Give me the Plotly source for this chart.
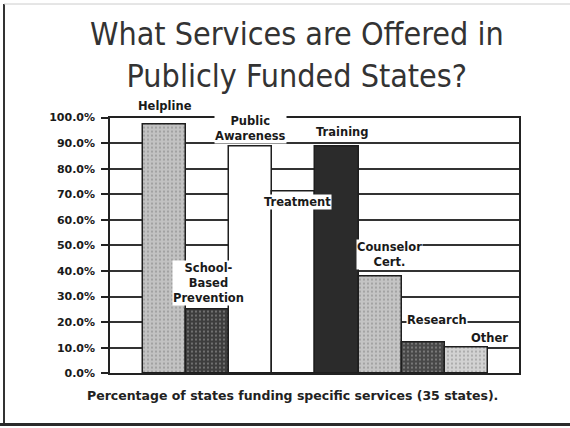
import plotly.graph_objects as go

# ---- data ----
services = ["Helpline", "School-Based Prevention", "Public Awareness", "Treatment",
            "Training", "Counselor Cert.", "Research", "Other"]
percent = [97.1, 25.0, 88.6, 71.0, 88.6, 38.0, 12.0, 10.0]
bar_labels = ["Helpline", "School-<br>Based<br>Prevention", "Public<br>Awareness", "Treatment",
              "Training", "Counselor<br>Cert.", "Research", "Other"]
tick_values = [0, 10, 20, 30, 40, 50, 60, 70, 80, 90, 100]
tick_labels = ["0.0%", "10.0%", "20.0%", "30.0%", "40.0%", "50.0%",
               "60.0%", "70.0%", "80.0%", "90.0%", "100.0%"]
title_text = "What Services are Offered in<br>Publicly Funded States?"
caption_text = "Percentage of states funding specific services (35 states)."

# ---- styles ----
W, H = 570, 428
fill = ["#c2c2c2", "#3d3d3d", "#ffffff", "#ffffff", "#2b2b2b", "#c4c4c4", "#484848", "#d2d2d2"]
speck = ["#8a8a8a", "#1e1e1e", "#ffffff", "#ffffff", "#1a1a1a", "#8e8e8e", "#262626", "#9a9a9a"]
shapes_p = [".", ".", "", "", "", ".", ".", "."]
# label anchors (bar-index offset, percent height)
lab_dx = [0.0, 0.03, 0.0, 0.08, 0.14, 0.22, 0.31, 0.53]
lab_y = [107.5, 35.2, 95.8, 66.8, 94.4, 46.4, 20.9, 13.9]

x_idx = list(range(len(services)))

fig = go.Figure()
fig.add_trace(go.Bar(
    x=x_idx, y=percent, width=1.0,
    marker=dict(color=fill, line=dict(color="#1e1e1e", width=1.5),
                pattern=dict(shape=shapes_p, fgcolor=speck,
                             size=4, solidity=0.15, fillmode="overlay")),
    hovertext=services, showlegend=False,
))

Y0, Y1 = 373.3, 117.5  # pixel rows of 0% and 100%


def pct_to_paper(v):
    return 1 - (Y0 - v / 100 * (Y0 - Y1)) / H


lab_font = dict(family="DejaVu Sans, sans-serif", size=11.5, color="#1a1a1a")
for i, t in enumerate(bar_labels):
    if lab_y[i] > 100:
        fig.add_annotation(x=i + lab_dx[i], y=pct_to_paper(lab_y[i]), xref="x", yref="paper",
                           text="<b>" + t + "</b>", showarrow=False, font=lab_font,
                           bgcolor="white", borderpad=0, align="center")
    else:
        fig.add_annotation(x=i + lab_dx[i], y=lab_y[i], xref="x", yref="y",
                           text="<b>" + t + "</b>", showarrow=False, font=lab_font,
                           bgcolor="white", borderpad=0, align="center")

# title and caption
fig.add_annotation(x=297 / W, y=1 - 55 / H, xref="paper", yref="paper", text=title_text,
                   showarrow=False, font=dict(family="DejaVu Sans Condensed, DejaVu Sans, sans-serif",
                                              size=32, color="#333333"),
                   align="center", xanchor="center", yanchor="middle")
fig.add_annotation(x=292 / W, y=1 - 395 / H, xref="paper", yref="paper", text="<b>" + caption_text + "</b>",
                   showarrow=False, font=dict(family="DejaVu Sans, sans-serif",
                                              size=12.5, color="#222222"),
                   xanchor="center", yanchor="middle")

# page frame lines
frame = [
    dict(type="line", xref="paper", yref="paper", x0=4 / W, x1=4 / W, y0=1 - 4 / H, y1=1 - 425 / H,
         line=dict(color="#333333", width=2)),
    dict(type="line", xref="paper", yref="paper", x0=4 / W, x1=1, y0=1 - 4 / H, y1=1 - 4 / H,
         line=dict(color="#cccccc", width=1)),
    dict(type="line", xref="paper", yref="paper", x0=0, x1=1, y0=1 - 424.5 / H, y1=1 - 424.5 / H,
         line=dict(color="#2a2a2a", width=3)),
]

fig.update_layout(
    width=W, height=H,
    margin=dict(l=0, r=0, t=0, b=0),
    paper_bgcolor="white", plot_bgcolor="white",
    shapes=frame,
    bargap=0,
    xaxis=dict(domain=[110 / W, 519 / W], range=[-1.266, 8.224], showticklabels=False,
               showgrid=False, zeroline=False, showline=True, linecolor="#222222", linewidth=1.5,
               mirror=True, ticks="", automargin=False),
    yaxis=dict(domain=[(H - Y0) / H, (H - Y1) / H], range=[0, 100],
               tickvals=tick_values, ticktext=["<b>" + s + "</b>" for s in tick_labels],
               ticks="outside", ticklen=7, tickcolor="#222222", tickwidth=1.5,
               ticklabelstandoff=4,
               tickfont=dict(family="DejaVu Sans, sans-serif", size=11, color="#1a1a1a"),
               showgrid=True, gridcolor="#333333", gridwidth=1.5, zeroline=False,
               showline=True, linecolor="#222222", linewidth=1.5, mirror=True, automargin=False),
)

fig.write_html("out.html", config={"displayModeBar": False},
               post_script="document.body.style.margin='0';")
